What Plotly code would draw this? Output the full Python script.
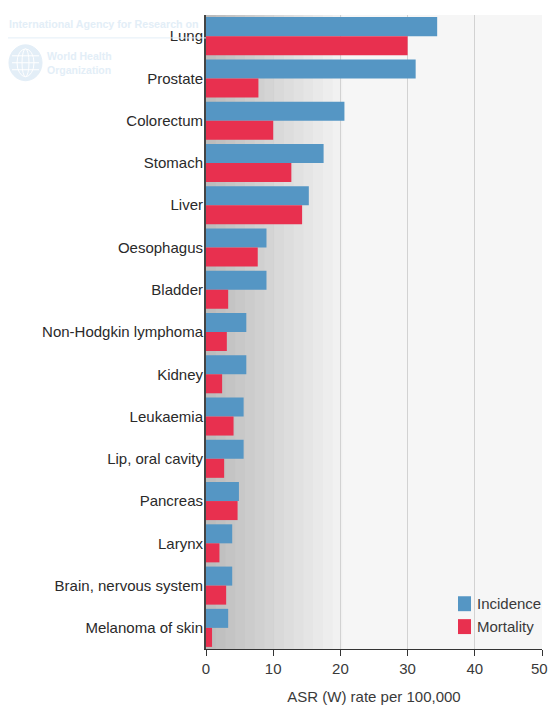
import plotly.graph_objects as go

categories = ["Lung", "Prostate", "Colorectum", "Stomach", "Liver", "Oesophagus", "Bladder",
              "Non-Hodgkin lymphoma", "Kidney", "Leukaemia", "Lip, oral cavity", "Pancreas",
              "Larynx", "Brain, nervous system", "Melanoma of skin"]
incidence = [34.4, 31.2, 20.6, 17.5, 15.3, 9.0, 9.0, 6.0, 6.0, 5.6, 5.6, 4.9, 3.9, 3.9, 3.3]
mortality = [30.0, 7.8, 10.0, 12.7, 14.3, 7.7, 3.3, 3.1, 2.4, 4.1, 2.7, 4.7, 2.0, 3.0, 0.9]
x_ticks = [0, 10, 20, 30, 40, 50]
x_tick_labels = ["0", "10", "20", "30", "40", ""]
last_tick_label = "50"
series_names = ["Incidence", "Mortality"]

BLUE = "#5596c4"
RED = "#e8304f"
FONT = "Liberation Sans"
INK = "#3a3a3a"
LOGO = "#e3eef7"

def px(x): return (x - 206) / 336
def py(y): return (652 - y) / 637

fig = go.Figure()
for name, vals, col in zip(series_names, [incidence, mortality], [BLUE, RED]):
    fig.add_trace(go.Bar(y=categories, x=vals, name=name, orientation="h",
                         marker=dict(color=col, line=dict(width=0)), showlegend=False))

shapes = []
steps = 15
for i in range(steps):
    t = i / (steps - 1)
    g = int(188 + (246 - 188) * t)
    shapes.append(dict(type="rect", xref="x", yref="paper", x0=i * 1.45, x1=50,
                       y0=0, y1=1, layer="below", line=dict(width=0),
                       fillcolor=f"rgb({g},{g},{g})"))

# faint WHO emblem
shapes.append(dict(type="line", xref="paper", yref="paper", x0=px(8), x1=px(206), y0=py(38), y1=py(38),
                   line=dict(color=LOGO, width=1)))
shapes.append(dict(type="circle", xref="paper", yref="paper", x0=px(9), x1=px(42), y0=py(45), y1=py(81),
                   fillcolor=LOGO, line=dict(color=LOGO, width=1)))
for a, b in [(17, 34), (22, 29)]:
    shapes.append(dict(type="circle", xref="paper", yref="paper", x0=px(a), x1=px(b), y0=py(49), y1=py(77),
                       line=dict(color="white", width=1)))
for y in (56, 63, 70):
    shapes.append(dict(type="line", xref="paper", yref="paper", x0=px(12), x1=px(39), y0=py(y), y1=py(y),
                       line=dict(color="white", width=1)))

annotations = [
    dict(text="International Agency for Research on", x=px(7), y=py(24), xref="paper", yref="paper",
         xanchor="left", yanchor="middle", showarrow=False,
         font=dict(family=FONT, size=10.7, color=LOGO, weight="bold")),
    dict(text="World Health<br>Organization", x=px(45), y=py(63), xref="paper", yref="paper",
         xanchor="left", yanchor="middle", align="left", showarrow=False,
         font=dict(family=FONT, size=10.5, color=LOGO, weight="bold")),
    dict(text=last_tick_label, x=px(550), y=py(671.5), xref="paper", yref="paper",
         xanchor="right", yanchor="middle", showarrow=False,
         font=dict(family=FONT, size=15, color=INK)),
]

# legend keys
for name, col, yc in zip(series_names, [BLUE, RED], [606.5, 629.5]):
    shapes.append(dict(type="rect", xref="paper", yref="paper", x0=px(458), x1=px(471),
                       y0=py(yc + 7.5), y1=py(yc - 7.5), fillcolor=col, line=dict(width=0), layer="above"))
    annotations.append(dict(text=name, x=px(475), y=py(yc), xref="paper", yref="paper",
                            xanchor="left", yanchor="middle", showarrow=False,
                            font=dict(family=FONT, size=15, color=INK)))

fig.update_layout(
    width=550, height=711, autosize=False,
    margin=dict(l=206, r=8, t=15, b=59, pad=0),
    barmode="group", bargap=0.1, bargroupgap=0,
    paper_bgcolor="white", plot_bgcolor="#f7f7f7",
    font=dict(family=FONT, size=15, color=INK),
    shapes=shapes, annotations=annotations, showlegend=False,
    xaxis=dict(range=[0, 50], tickvals=x_ticks, ticktext=x_tick_labels, ticks="outside", ticklen=6,
               tickcolor="#333", showline=True, linecolor="#333", linewidth=1, showgrid=True,
               gridcolor="#d2d2d2", gridwidth=1, zeroline=False, tickfont=dict(size=15, color=INK),
               title=dict(text="ASR (W) rate per 100,000", standoff=15, font=dict(size=15, color=INK))),
    yaxis=dict(categoryorder="array", categoryarray=categories, autorange="reversed", ticks="",
               showline=True, linecolor="#444", linewidth=2, showgrid=False,
               tickfont=dict(size=15, color="#2a2a2a"), ticklabelstandoff=-2),
)
fig.write_html("out.html", config=dict(displayModeBar=False),
               post_script="document.body.style.margin='0';")
